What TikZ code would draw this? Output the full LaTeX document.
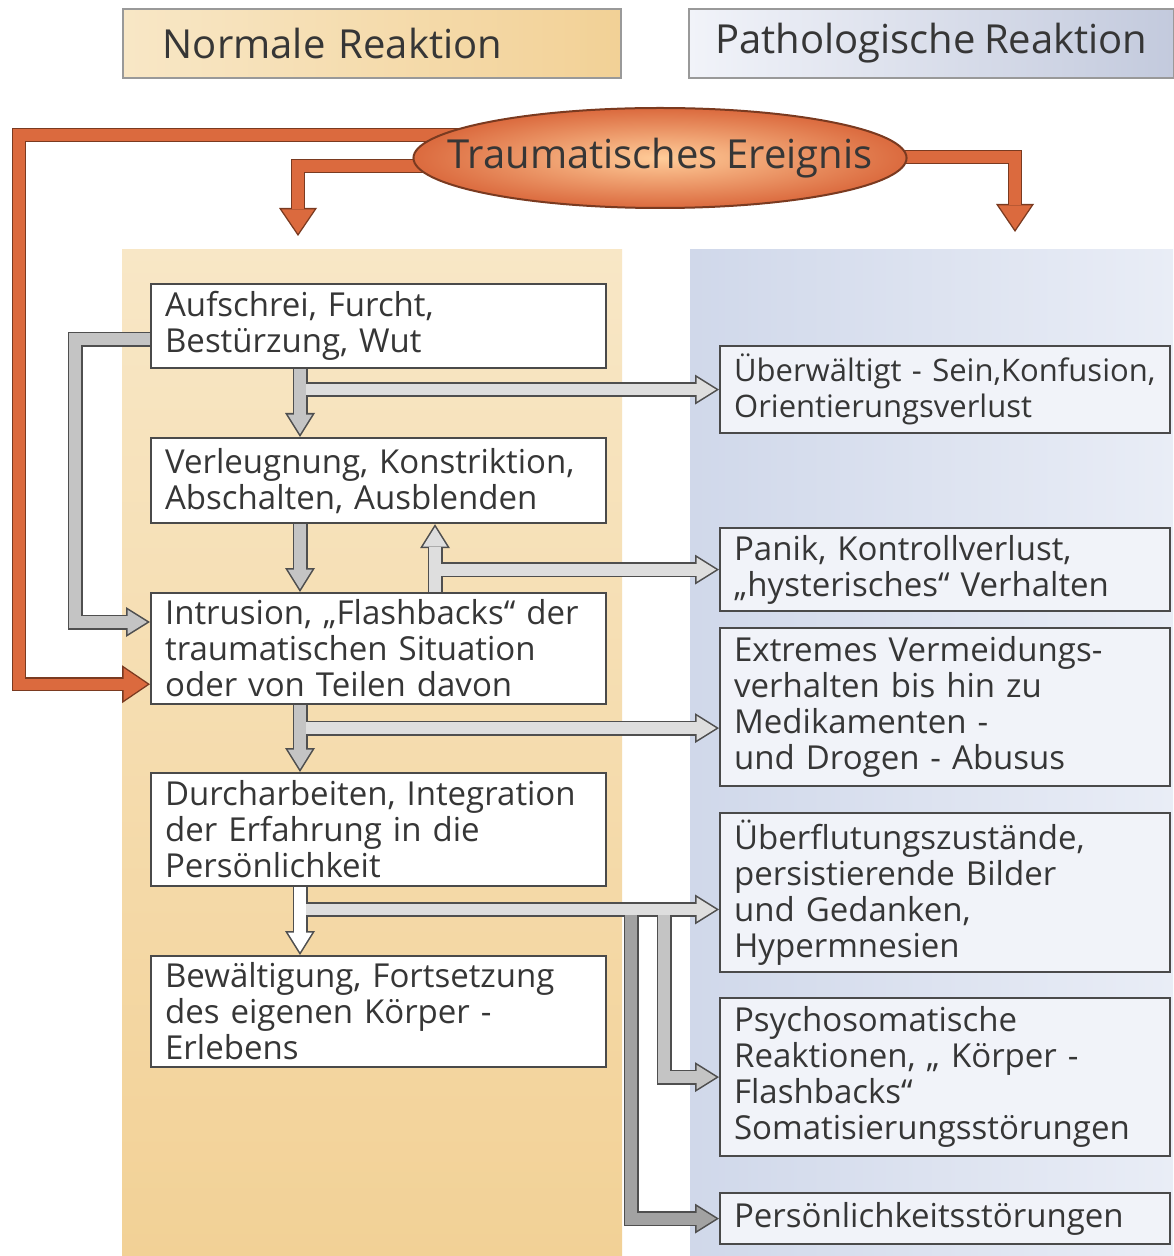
\documentclass[tikz,border=0pt]{standalone}
\usepackage{fontspec}
\setmainfont{Open Sans}[WordSpace=0.8]
\usetikzlibrary{arrows.meta,shapes.geometric}

\definecolor{txt}{HTML}{363636}
\definecolor{boxedge}{HTML}{4A4A4A}
\definecolor{grayedge}{HTML}{4F4F4F}
\definecolor{graylight}{HTML}{DEDEDE}
\definecolor{graymid}{HTML}{C4C4C4}
\definecolor{graydark}{HTML}{A2A2A2}
\definecolor{orangeedge}{HTML}{7A3A20}
\definecolor{orangefill}{HTML}{DB6A3E}
\definecolor{tanlight}{HTML}{F8E7C6}
\definecolor{tandark}{HTML}{F2D196}
\definecolor{bluelight}{HTML}{E9EDF6}
\definecolor{bluedark}{HTML}{D0D8EA}
\definecolor{bluehead}{HTML}{C3CADD}
\definecolor{rboxfill}{HTML}{F1F3F9}

\pgfdeclarelayer{back}
\pgfdeclarelayer{mid}
\pgfsetlayers{back,mid,main}

\tikzset{
  lbox/.style={draw=boxedge, line width=1.1pt, fill=white, text=txt, anchor=north west,
    inner xsep=7pt, text width=213.5pt, align=left, font=\fontsize{16.5}{18}\selectfont},
  rbox/.style={lbox, fill=rboxfill, text width=211pt},
  head/.style={draw=gray!80, line width=0.8pt, anchor=north west, text=txt,
    minimum height=34.5pt, font=\fontsize{20}{24}\selectfont},
  gout/.style={draw=grayedge, line width=7.5pt,
    -{Triangle[width=15pt,length=12pt,line width=0pt]}},
  gin/.style={draw=#1, line width=5.9pt, shorten >=1.5pt,
    -{Triangle[width=12.1pt,length=9.7pt,line width=0pt]}},
  oout/.style={draw=orangeedge, line width=7pt,
    -{Triangle[width=19pt,length=14pt,line width=0pt]}},
  oin/.style={draw=orangefill, line width=5.6pt, shorten >=1.25pt,
    -{Triangle[width=16.3pt,length=12pt,line width=0pt]}}
}

\begin{document}
\begin{tikzpicture}[x=0.5pt,y=-0.5pt]
  \useasboundingbox (0,0) rectangle (1173,1256);

  % column backgrounds
  \begin{pgfonlayer}{back}
    \fill[white] (0,0) rectangle (1173,1256);
    \shade[top color=tanlight, bottom color=tandark] (122,250) rectangle (622,1256);
    \shade[left color=bluedark, right color=bluelight] (690,250) rectangle (1173,1256);
  \end{pgfonlayer}

  % headers
  \node[head, left color=tanlight, right color=tandark, minimum width=249pt,
    text width=209pt, inner xsep=20pt, align=left] (hn) at (122,8) {Normale Reaktion};
  \node[head, left color=rboxfill, right color=bluehead, minimum width=242.5pt] (hp)
    at (688,8) {Pathologische Reaktion};

  \node[ellipse, draw=orangeedge, line width=1pt, inner color=orange!40!white,
    outer color=orangefill, minimum width=245pt, minimum height=50pt,
    inner xsep=-19pt, inner ysep=0pt,
    text=txt, font=\fontsize{20}{24}\selectfont] (ev) at (660,158) {Traumatisches Ereignis};

  % normale Reaktion
  \node[lbox, minimum height=42pt]   (b1) at (150,283) {Aufschrei, Furcht,\\Bestürzung, Wut};
  \node[lbox, minimum height=42.5pt] (b2) at (150,437) {Verleugnung, Konstriktion,\\Abschalten, Ausblenden};
  \node[lbox, minimum height=55.5pt] (b3) at (150,592) {Intrusion, „Flashbacks“ der\\traumatischen Situation\\oder von Teilen davon};
  \node[lbox, minimum height=56.5pt] (b4) at (150,772) {Durcharbeiten, Integration\\der Erfahrung in die\\Persönlichkeit};
  \node[lbox, minimum height=55pt]   (b5) at (150,955) {Bewältigung, Fortsetzung\\des eigenen Körper -\\Erlebens};

  % pathologische Reaktion
  \node[rbox, minimum height=43.5pt, font=\fontsize{15.5}{18}\selectfont] (r1) at (719,345)
    {Überwältigt - Sein,Konfusion,\\Orientierungsverlust};
  \node[rbox, minimum height=41.5pt] (r2) at (719,527) {Panik, Kontrollverlust,\\„hysterisches“ Verhalten};
  \node[rbox, minimum height=79pt]   (r3) at (719,627) {Extremes Vermeidungs-\\verhalten bis hin zu\\Medikamenten -\\und Drogen - Abusus};
  \node[rbox, minimum height=78pt]   (r4) at (719,812) {Überflutungszustände,\\persistierende Bilder\\und Gedanken,\\Hypermnesien};
  \node[rbox, minimum height=79pt]   (r5) at (719,997) {Psychosomatische\\Reaktionen, „ Körper -\\Flashbacks“\\Somatisierungsstörungen};
  \node[rbox, minimum height=25.5pt] (r6) at (719,1192) {Persönlichkeitsstörungen};

  \coordinate (cx) at (300,0);
  \coordinate (ux) at (435,0);
  \coordinate (lx) at (75,0);
  \coordinate (ox) at (19,0);
  \coordinate (d1) at (631,0);
  \coordinate (d2) at (664,0);
  \coordinate (ol) at (298,236);
  \coordinate (or) at (1015,232);

  % arrows: outline first, then filling
  \begin{pgfonlayer}{mid}
  \foreach \p in {oout,oin}{
    \draw[\p] ([yshift=11.5pt]ev.center) -| ([yshift=10.5pt]b3.south west -| ox)
      -- ([yshift=10.5pt]b3.south west);
    \draw[\p] ([yshift=-4pt]ev.center) -| (ol);
    \draw[\p] ([yshift=0.5pt]ev.center) -| (or);
  }
  \foreach \p in {gout,gin}{
    \draw[\p=graymid] ([yshift=-6.5pt]b1.west) -| ([yshift=-15pt]b3.north west -| lx)
      -- ([yshift=-15pt]b3.north west);
    \draw[\p=graydark] ([yshift=-8.5pt]r4.west -| d1) |- (r6.west);
    \draw[\p=graymid] ([yshift=-8.5pt]r4.west -| d2) |- (r5.west);
    \draw[\p=graylight] (r1.west -| cx) -- (r1.west);
    \draw[\p=graymid] (b1.south -| cx) -- (b2.north -| cx);
    \draw[\p=graylight] (r2.west -| ux) -- (r2.west);
    \draw[\p=graylight] (b3.north -| ux) -- (b2.south -| ux);
    \draw[\p=graymid] (b2.south -| cx) -- (b3.north -| cx);
    \draw[\p=graylight] ([yshift=-10.5pt]r3.west -| cx) -- ([yshift=-10.5pt]r3.west);
    \draw[\p=graymid] (b3.south -| cx) -- (b4.north -| cx);
    \draw[\p=graylight] ([yshift=-8.5pt]r4.west -| cx) -- ([yshift=-8.5pt]r4.west);
    \draw[\p=white] (b4.south -| cx) -- (b5.north -| cx);
  }
  \end{pgfonlayer}
\end{tikzpicture}
\end{document}
